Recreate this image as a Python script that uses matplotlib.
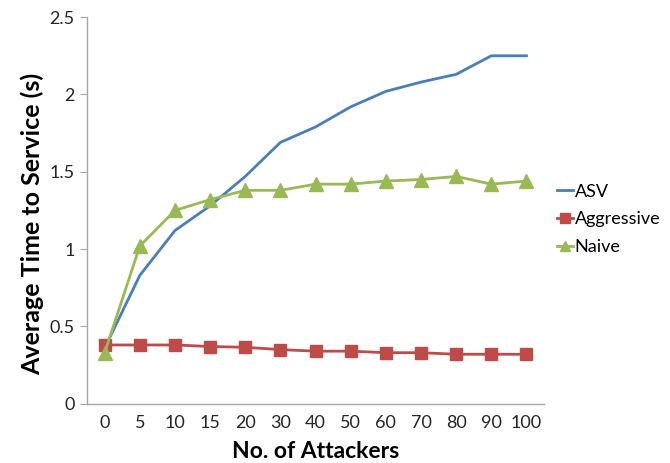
import matplotlib
matplotlib.use("Agg")
import matplotlib.pyplot as plt

attackers = ["0", "5", "10", "15", "20", "30", "40", "50", "60", "70", "80", "90", "100"]
asv = [0.36, 0.83, 1.12, 1.28, 1.47, 1.69, 1.79, 1.92, 2.02, 2.08, 2.13, 2.25, 2.25]
aggressive = [0.38, 0.38, 0.38, 0.37, 0.365, 0.35, 0.34, 0.34, 0.33, 0.33, 0.32, 0.32, 0.32]
naive = [0.33, 1.02, 1.25, 1.32, 1.38, 1.38, 1.42, 1.42, 1.44, 1.45, 1.47, 1.42, 1.44]

plt.rcParams["font.family"] = ["Lato", "DejaVu Sans"]

fig = plt.figure(figsize=(6.7, 4.63), dpi=100)
ax = fig.add_axes([0.13, 0.128, 0.682, 0.835])

x = list(range(len(attackers)))
ax.plot(x, asv, color="#4a7ebb", lw=2, label="ASV")
ax.plot(x, aggressive, color="#be4b48", lw=2, marker="s", ms=9, label="Aggressive")
ax.plot(x, naive, color="#98b954", lw=2, marker="^", ms=10, label="Naive")

ax.set_xlim(-0.5, len(attackers) - 0.5)
ax.set_ylim(0, 2.5)
ax.set_xticks(x)
ax.set_xticklabels(attackers)
ax.set_yticks([0, 0.5, 1, 1.5, 2, 2.5])
ax.set_yticklabels(["0", "0.5", "1", "1.5", "2", "2.5"])
ax.tick_params(axis="x", length=0, pad=8, labelsize=13, labelcolor="#262626")
ax.tick_params(axis="y", length=5, color="#a6a6a6", pad=4, labelsize=13, labelcolor="#262626")

for side in ["top", "right"]:
    ax.spines[side].set_visible(False)
for side in ["left", "bottom"]:
    ax.spines[side].set_color("#a6a6a6")
    ax.spines[side].set_linewidth(1)

ax.set_xlabel("No. of Attackers", fontsize=16.5, fontweight="bold", labelpad=7)
ax.set_ylabel("Average Time to Service (s)", fontsize=18, fontweight="bold")
ax.yaxis.set_label_coords(-0.095, 0.464)

ax.legend(loc="center left", bbox_to_anchor=(1.0, 0.477), frameon=False, fontsize=13,
          handlelength=0.9, handletextpad=0.1, labelspacing=0.65, borderaxespad=0.3,
          markerscale=0.75)

fig.savefig("out.png", dpi=100)
